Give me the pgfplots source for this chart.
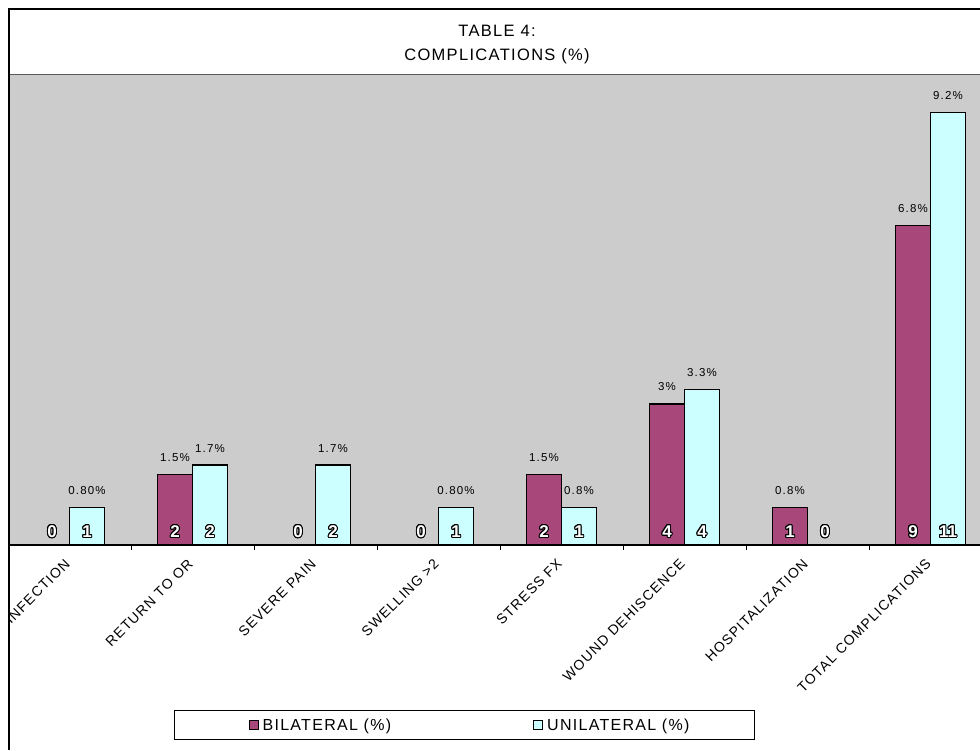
\documentclass[border=0pt]{standalone}
\usepackage{pgfplots}
\usepackage{pgfplotstable}
\pgfplotsset{compat=1.18}
\usepackage{fontspec}
\setmainfont{Liberation Sans}
\newfontfamily\spacedfont[LetterSpace=8]{Liberation Sans}
\newfontfamily\pctfam[LetterSpace=10]{Liberation Sans}
\usepackage{contour}
\contourlength{1pt}

\definecolor{bilat}{HTML}{A8487A}
\definecolor{unilat}{HTML}{CCFFFF}
\definecolor{plotgray}{HTML}{CCCCCC}

\newcommand\titlefont{\spacedfont\fontsize{16.5}{19}\selectfont}
\newcommand\tickfont{\spacedfont\fontsize{14}{16}\selectfont}
\newcommand\legfont{\spacedfont\fontsize{16}{18}\selectfont}
\newcommand\pctfont{\pctfam\fontsize{11.5}{13}\selectfont}
\newcommand\cntfont{\bfseries\fontsize{17}{19}\selectfont}

% percentage of patients per complication
\pgfplotstableread{
x  y    lab
0  0    {}
1  1.5  1.5\%
2  0    {}
3  0    {}
4  1.5  1.5\%
5  3    3\%
6  0.8  0.8\%
7  6.8  6.8\%
}\bilateral

\pgfplotstableread{
x  y    lab
0  0.8  0.80\%
1  1.7  1.7\%
2  1.7  1.7\%
3  0.8  0.80\%
4  0.8  0.8\%
5  3.3  3.3\%
6  0    {}
7  9.2  9.2\%
}\unilateral

% number of patients per complication
\pgfplotstableread{
x  base  bc  uc
0  0     0   1
1  0     2   2
2  0     0   2
3  0     0   1
4  0     2   1
5  0     4   4
6  0     1   0
7  0     9   11
}\counts

\begin{document}
\begin{tikzpicture}[x=1pt,y=1pt]
\fill[white] (0,0) rectangle (980,750);
\begin{scope}
\clip (9.5,0) rectangle (990,741);
\begin{axis}[
  at={(8pt,205pt)}, anchor=south west,
  x=123pt, y=47pt,
  xmin=-0.5, xmax=7.5, ymin=0, ymax=10,
  clip=false,
  ybar=0pt, bar width=35pt,
  axis y line=none,
  axis x line*=bottom,
  x axis line style={-, black, line width=1.3pt},
  axis background/.style={fill=plotgray},
  xtick={0,...,7},
  xticklabels={INFECTION, RETURN TO OR, SEVERE PAIN, SWELLING >2, STRESS FX,
    WOUND DEHISCENCE, HOSPITALIZATION, TOTAL COMPLICATIONS},
  xticklabel style={font=\tickfont, rotate=45, anchor=north east, inner sep=1pt,
    xshift=-9pt, yshift=-1pt},
  major x tick style={draw=none},
  minor xtick={0.5,1.5,...,6.5},
  minor x tick style={black, line width=1pt},
  tick align=outside, minor tick length=5pt,
  legend image code/.code={\path (0pt,0pt);
    \draw[#1, draw=black, line width=1pt] (13pt,-4.5pt) rectangle (22pt,4.5pt);},
  legend style={at={(0.4639,-0.383)}, anchor=center, legend columns=2,
    draw=black, line width=1.2pt, inner xsep=61pt, inner ysep=5pt, font=\legfont,
    /tikz/every even column/.append style={column sep=125pt},
    nodes={inner xsep=4pt, inner ysep=3pt}},
]
\addplot[fill=bilat, draw=black, line width=1.2pt, bar shift=-17.5pt,
  nodes near coords={\pctfont\pgfplotspointmeta}, point meta=explicit symbolic,
  every node near coord/.append style={anchor=center, yshift=17pt, black}]
  table[x=x, y=y, meta=lab] {\bilateral};
\addlegendentry{BILATERAL (\%)}
\addplot[fill=unilat, draw=black, line width=1.2pt, bar shift=17.5pt,
  nodes near coords={\pctfont\pgfplotspointmeta}, point meta=explicit symbolic,
  every node near coord/.append style={anchor=center, yshift=17pt, black}]
  table[x=x, y=y, meta=lab] {\unilateral};
\addlegendentry{UNILATERAL (\%)}
% patient counts written at the foot of each bar
\addplot[draw=none, fill=none, bar shift=-17.5pt, forget plot,
  nodes near coords={\cntfont\contour{black}{\textcolor{white}{\pgfplotspointmeta}}},
  point meta=explicit symbolic,
  every node near coord/.append style={anchor=center, yshift=13pt}]
  table[x=x, y=base, meta=bc] {\counts};
\addplot[draw=none, fill=none, bar shift=17.5pt, forget plot,
  nodes near coords={\cntfont\contour{black}{\textcolor{white}{\pgfplotspointmeta}}},
  point meta=explicit symbolic,
  every node near coord/.append style={anchor=center, yshift=13pt}]
  table[x=x, y=base, meta=uc] {\counts};
\end{axis}
\end{scope}
% plot area top edge and chart frame
\draw[gray!70!black, line width=1pt] (9,675) -- (980,675);
\draw[black, line width=2pt] (9,0) -- (9,741) -- (981,741);
\node[font=\titlefont] at (497,719) {TABLE 4:};
\node[font=\titlefont] at (497,694) {COMPLICATIONS (\%)};
\pgfresetboundingbox
\useasboundingbox (0,0) rectangle (980,750);
\end{tikzpicture}
\end{document}
